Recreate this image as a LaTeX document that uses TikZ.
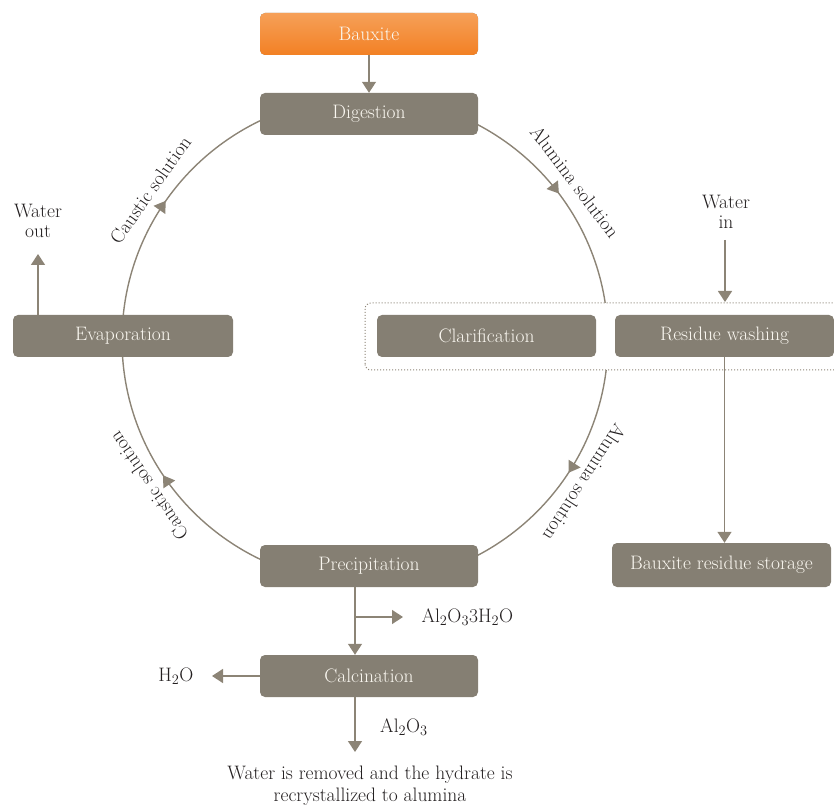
\documentclass[tikz,border=0pt]{standalone}
\usepackage{xcolor}
\usetikzlibrary{arrows.meta,decorations.markings}

\definecolor{boxgray}{RGB}{133,127,115}
\definecolor{linegray}{RGB}{140,132,118}
\definecolor{boxtext}{RGB}{250,247,240}
\definecolor{labeltext}{RGB}{35,31,32}
\definecolor{orangetop}{RGB}{246,160,88}
\definecolor{orangebot}{RGB}{242,128,36}

\begin{document}
\begin{tikzpicture}[x=1pt,y=1pt,
  stage/.style={fill=boxgray, text=boxtext, rounded corners=5pt,
    minimum width=218pt, minimum height=42pt, inner sep=0pt,
    font=\fontsize{19.5}{23}\selectfont},
  tag/.style={text=labeltext, font=\fontsize{19.5}{20}\selectfont, align=center},
  flow/.style={draw=linegray, line width=1.4pt, -{Triangle[width=14pt,length=11pt]}},
  cycleline/.style={draw=linegray, line width=1.4pt}
]
  \useasboundingbox (0,0) rectangle (834,809);

  % The cycle
  \coordinate (ctr) at (365,469);
  \draw[cycleline, postaction={decorate}, decoration={markings,
      mark=at position 0.103 with {\arrowreversed{Triangle[width=14pt,length=11pt]}},
      mark=at position 0.403 with {\arrowreversed{Triangle[width=14pt,length=11pt]}},
      mark=at position 0.594 with {\arrowreversed{Triangle[width=14pt,length=11pt]}},
      mark=at position 0.908 with {\arrowreversed{Triangle[width=14pt,length=11pt]}}}]
    (ctr) circle (243);

  % Labels along the cycle
  \node[tag, rotate=-53] at ([shift={(ctr)}]37:263) {Alumina solution};
  \node[tag, rotate=55] at ([shift={(ctr)}]145:262) {Caustic solution};
  \node[tag, rotate=124] at ([shift={(ctr)}]214:261) {Caustic solution};
  \node[tag, rotate=-123] at ([shift={(ctr)}]-33:262) {Alumina solution};

  % Dotted group round clarification and washing
  \draw[linegray, dotted, line width=1pt, fill=white, rounded corners=6pt]
    (365,439) rectangle (850,506);
  \coordinate (wintop) at (725,507);

  % Stages
  \node[stage, top color=orangetop, bottom color=orangebot] (bauxite) at (369,775) {Bauxite};
  \node[stage] (digestion) at (369,695) {Digestion};
  \node[stage, minimum width=220pt] (evap) at (123,473) {Evaporation};
  \node[stage, minimum width=219pt] (clarif) at (486.5,473) {Clarification};
  \node[stage, minimum width=219pt] (washing) at (724.5,473) {Residue washing};
  \node[stage] (precip) at (369,243) {Precipitation};
  \node[stage] (calcin) at (369,133) {Calcination};
  \node[stage, minimum width=219pt, minimum height=44pt] (storage) at (721.5,244) {Bauxite residue storage};

  % Feed and water
  \draw[flow] (bauxite) -- (digestion);
  \coordinate (wout) at (38,555);
  \draw[flow] (wout |- evap.north) -- (wout);
  \node[tag] (woutlabel) at (38,588) {Water\\out};
  \node[tag] (winlabel) at (726,597) {Water\\in};
  \coordinate (winstart) at (725,569);
  \draw[flow] (winstart) -- (wintop);
  \draw[flow] (washing.south) -- (washing.south |- storage.north);

  % Products
  \coordinate (drop) at (355,57);
  \coordinate (branch) at (355,192);
  \draw[flow] (precip.south -| drop) -- (calcin.north -| drop);
  \node[tag, anchor=west] (hydrate) at (418,192) {Al$_2$O$_3$3H$_2$O};
  \draw[flow, shorten >=15pt] (branch) -- (hydrate.west);
  \node[tag, anchor=east] (water) at (197,133) {H$_2$O};
  \draw[flow, shorten >=15pt] (calcin.west) -- (water.east);
  \draw[flow] (calcin.south -| drop) -- (drop);
  \node[tag] (alumina) at (404,82) {Al$_2$O$_3$};
  \node[tag, font=\fontsize{19.5}{22}\selectfont] (note) at (370,23) {Water is removed and the hydrate is\\recrystallized to alumina};
\end{tikzpicture}
\end{document}
